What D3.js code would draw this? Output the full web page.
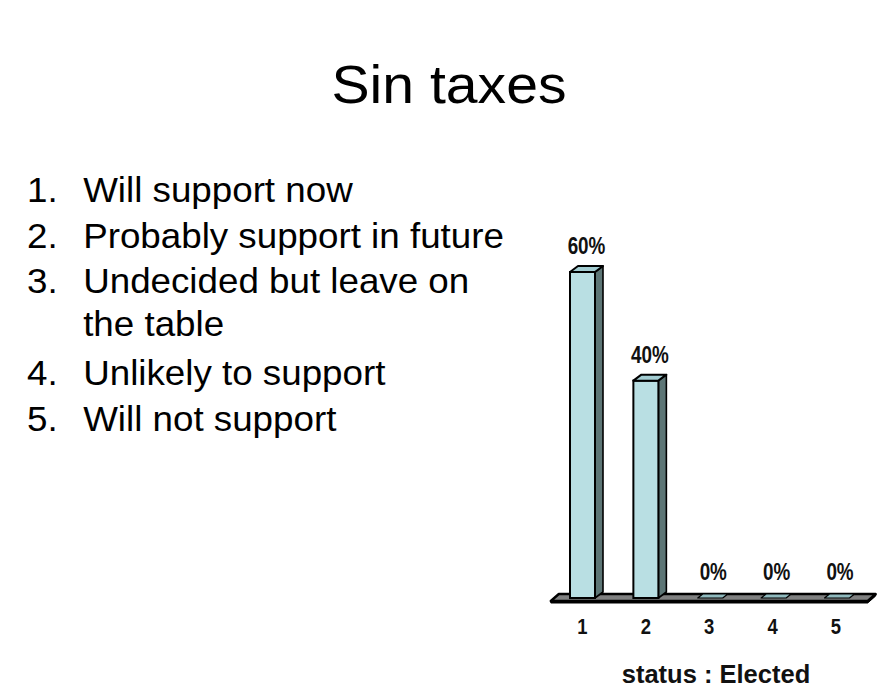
<!DOCTYPE html>
<html>
<head>
<meta charset="utf-8">
<script src="https://cdn.jsdelivr.net/npm/d3@7"></script>
<style>
  html, body { margin: 0; padding: 0; background: #ffffff; }
  svg { display: block; }
</style>
</head>
<body>
<script>
// Slide content
const title = "Sin taxes";
const listItems = [
  { num: "1.", lines: ["Will support now"] },
  { num: "2.", lines: ["Probably support in future"] },
  { num: "3.", lines: ["Undecided but leave on", "the table"] },
  { num: "4.", lines: ["Unlikely to support"] },
  { num: "5.", lines: ["Will not support"] }
];

// Chart data
const categories = ["1", "2", "3", "4", "5"];
const values = [60, 40, 0, 0, 0];   // percent of responses
const axisTitle = "status : Elected";

const W = 893, H = 690;
const svg = d3.select("body").append("svg").attr("width", W).attr("height", H);

// Title
svg.append("text")
  .attr("x", 449).attr("y", 103)
  .attr("text-anchor", "middle")
  .attr("font-family", "Arial, 'Liberation Sans', sans-serif")
  .attr("font-size", 53)
  .attr("textLength", 235)
  .attr("lengthAdjust", "spacingAndGlyphs")
  .attr("fill", "#000")
  .text(title);

// Numbered list
const listG = svg.append("g").attr("transform", "translate(27,0) scale(1.05,1)");
const lineBaselines = [[202], [248], [293, 336], [385], [431]];
listItems.forEach((item, i) => {
  listG.append("text")
    .attr("x", 0).attr("y", lineBaselines[i][0])
    .attr("font-family", "Arial, 'Liberation Sans', sans-serif")
    .attr("font-size", 35).attr("fill", "#000")
    .text(item.num);
  item.lines.forEach((ln, j) => {
    listG.append("text")
      .attr("x", 53.5).attr("y", lineBaselines[i][j])
      .attr("font-family", "Arial, 'Liberation Sans', sans-serif")
      .attr("font-size", 35).attr("fill", "#000")
      .text(ln);
  });
});

// 3D column chart
const x = d3.scalePoint().domain(categories).range([582.5, 836]);
const step = x.step();
const barW = 25;
const y = d3.scaleLinear().domain([0, 60]).range([598, 272]);
const dx = 8, dy = 6;     // depth offset of the 3D faces

const frontFill = "#b9dfe3";
const topFill = "#a3cdd2";
const sideFill = "#5d7676";
const floorFill = "#7f8080";

const chart = svg.append("g");

// Floor slab
const fl = x(categories[0]) - step / 2;
const fr = x(categories[categories.length - 1]) + step / 2;
const fy = 601;
chart.append("path")
  .attr("d", `M${fl},${fy + 2} L${fr},${fy + 2} L${fr + dx},${fy - dy + 1} L${fr + dx},${fy - dy - 1} L${fr},${fy} L${fl},${fy} Z`)
  .attr("fill", "#000").attr("stroke", "#000").attr("stroke-width", 1);
chart.append("path")
  .attr("d", `M${fl},${fy} L${fr},${fy} L${fr + dx},${fy - dy - 1} L${fl + dx},${fy - dy - 1} Z`)
  .attr("fill", floorFill).attr("stroke", "#000").attr("stroke-width", 2.4).attr("stroke-linejoin", "round");

// Bars
const bars = chart.selectAll("g.bar")
  .data(categories.map((c, i) => ({ c, v: values[i] })))
  .join("g").attr("class", "bar");

bars.each(function(d) {
  const g = d3.select(this);
  const x0 = x(d.c) - barW / 2, x1 = x0 + barW;
  const yt = y(d.v), yb = y(0);
  if (d.v > 0) {
    g.append("path")
      .attr("d", `M${x1},${yt} L${x1 + dx},${yt - dy} L${x1 + dx},${yb - dy} L${x1},${yb} Z`)
      .attr("fill", sideFill).attr("stroke", "#000").attr("stroke-width", 1.6).attr("stroke-linejoin", "round");
    g.append("rect")
      .attr("x", x0).attr("y", yt).attr("width", barW).attr("height", yb - yt)
      .attr("fill", frontFill).attr("stroke", "#000").attr("stroke-width", 2);
    g.append("path")
      .attr("d", `M${x0},${yt} L${x0 + dx},${yt - dy} L${x1 + dx},${yt - dy} L${x1},${yt} Z`)
      .attr("fill", topFill)
      .attr("stroke", "#000").attr("stroke-width", 2).attr("stroke-linejoin", "round");
  } else {
    // zero-height column: only its flat top shows, lying in the floor
    g.append("path")
      .attr("d", `M${x0 + 1},${yb} L${x0 + dx - 2},${yb - dy + 2} L${x1 + dx - 2},${yb - dy + 2} L${x1 + 1},${yb} Z`)
      .attr("fill", "#8fb9bd")
      .attr("stroke", "#000").attr("stroke-width", 1.2).attr("stroke-linejoin", "round");
  }
});

// Value labels
bars.append("text")
  .attr("transform", d => `translate(${x(d.c) + dx / 2},${y(d.v) - dy - 12}) scale(0.82,1)`)
  .attr("text-anchor", "middle")
  .attr("font-family", "Arial, 'Liberation Sans', sans-serif")
  .attr("font-weight", "bold").attr("font-size", 23)
  .attr("fill", "#111")
  .text(d => d.v + "%");

// Category labels
chart.append("g").selectAll("text")
  .data(categories)
  .join("text")
  .attr("transform", d => `translate(${x(d)},634) scale(0.82,1)`)
  .attr("text-anchor", "middle")
  .attr("font-family", "Arial, 'Liberation Sans', sans-serif")
  .attr("font-weight", "bold").attr("font-size", 22.5)
  .attr("fill", "#111")
  .text(d => d);

// Axis title
chart.append("text")
  .attr("x", 716).attr("y", 683)
  .attr("text-anchor", "middle")
  .attr("font-family", "Arial, 'Liberation Sans', sans-serif")
  .attr("font-weight", "bold").attr("font-size", 25.5)
  .attr("fill", "#111")
  .text(axisTitle);
</script>
</body>
</html>
